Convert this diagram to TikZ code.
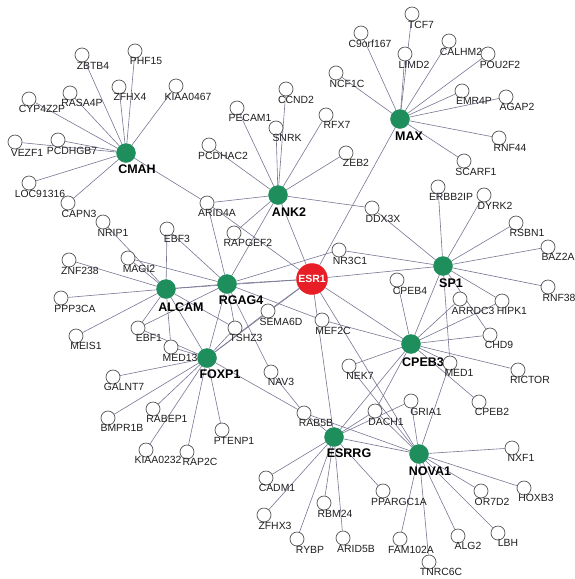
\documentclass[tikz,border=0pt]{standalone}
\usepackage{fontspec}
\setmainfont{Liberation Sans}
\usetikzlibrary{backgrounds}
\definecolor{hubgreen}{RGB}{30,142,92}
\definecolor{esrred}{RGB}{232,30,38}
\definecolor{edgecol}{RGB}{118,118,148}
\definecolor{ringcol}{RGB}{85,85,85}
\definecolor{txtcol}{RGB}{30,30,30}
\tikzset{
  leaf/.style={circle,draw=ringcol,fill=white,line width=0.7pt,minimum size=14pt,inner sep=0pt},
  hubnode/.style={circle,fill=hubgreen,draw=hubgreen,minimum size=19pt,inner sep=0pt},
  esrnode/.style={circle,fill=esrred,draw=esrred,minimum size=31pt,inner sep=0pt,text=white,font=\fontsize{10.5}{12}\selectfont\bfseries},
  lab/.style={inner sep=0pt,text=txtcol,font=\fontsize{10.4}{12}\selectfont},
  hublab/.style={inner sep=0pt,text=black,font=\fontsize{12.5}{14}\selectfont\bfseries},
  edge/.style={draw=edgecol,line width=0.6pt}
}
\newcommand\leafnode[6]{\node[leaf] (#1) at (#2,#3) {}; \node[lab] (#1-t) at (#4,#5) {#6};}
\newcommand\hubn[6]{\node[hubnode] (#1) at (#2,#3) {}; \node[hublab] (#1-t) at (#4,#5) {#6};}
\begin{document}
\begin{tikzpicture}[x=1pt,y=-1pt]
\useasboundingbox (0,0) rectangle (574,579);
% hubs
\hubn{CMAH}{126}{153}{137}{169}{CMAH}
\hubn{ANK2}{278}{195}{289}{212}{ANK2}
\hubn{MAX}{400}{119}{409}{136}{MAX}
\hubn{SP1}{443}{266}{451}{283}{SP1}
\hubn{CPEB3}{411}{344}{423}{362}{CPEB3}
\hubn{ALCAM}{166}{289}{181}{307}{ALCAM}
\hubn{RGAG4}{227}{284}{241}{300}{RGAG4}
\hubn{FOXP1}{207}{358}{220}{374}{FOXP1}
\hubn{ESRRG}{334}{437}{349}{453}{ESRRG}
\hubn{NOVA1}{419}{454}{430}{471}{NOVA1}
\node[esrnode] (ESR1) at (312,279) {ESR1};
% CMAH leaves
\leafnode{ZBTB4}{82}{55}{93}{66}{ZBTB4}
\leafnode{PHF15}{135}{51}{146}{61}{PHF15}
\leafnode{ZFHX4}{119}{87}{130}{97}{ZFHX4}
\leafnode{KIAA0467}{176}{86}{188}{97}{KIAA0467}
\leafnode{RASA4P}{70}{93}{82}{103}{RASA4P}
\leafnode{CYP4Z2P}{29}{99}{42}{109}{CYP4Z2P}
\leafnode{VEZF1}{15}{142}{27}{153}{VEZF1}
\leafnode{PCDHGB7}{58}{140}{72}{151}{PCDHGB7}
\leafnode{LOC91316}{29}{183}{40}{194}{LOC91316}
\leafnode{CAPN3}{68}{203}{79}{214}{CAPN3}
% ANK2 leaves
\leafnode{CCND2}{286}{89}{296}{100}{CCND2}
\leafnode{PECAM1}{237}{108}{250}{118}{PECAM1}
\leafnode{RFX7}{326}{115}{337}{125}{RFX7}
\leafnode{SNRK}{276}{128}{287}{138}{SNRK}
\leafnode{PCDHAC2}{209}{145}{223}{156}{PCDHAC2}
\leafnode{ZEB2}{346}{153}{356}{163}{ZEB2}
\leafnode{ARID4A}{207}{203}{217}{213}{ARID4A}
\leafnode{RAPGEF2}{234}{233}{248}{243}{RAPGEF2}
\leafnode{DDX3X}{372}{208}{383}{219}{DDX3X}
% MAX leaves
\leafnode{C9orf167}{361}{33}{370}{44}{C9orf167}
\leafnode{NCF1C}{336}{73}{347}{84}{NCF1C}
\leafnode{TCF7}{412}{14}{421}{25}{TCF7}
\leafnode{LIMD2}{405}{54}{414}{65}{LIMD2}
\leafnode{CALHM2}{449}{41}{461}{52}{CALHM2}
\leafnode{POU2F2}{488}{54}{500}{65}{POU2F2}
\leafnode{EMR4P}{462}{91}{474}{101}{EMR4P}
\leafnode{AGAP2}{506}{97}{517}{107}{AGAP2}
\leafnode{RNF44}{499}{138}{510}{148}{RNF44}
\leafnode{SCARF1}{464}{161}{476}{172}{SCARF1}
% SP1 leaves
\leafnode{ERBB2IP}{438}{187}{451}{197}{ERBB2IP}
\leafnode{DYRK2}{484}{195}{495}{206}{DYRK2}
\leafnode{RSBN1}{516}{223}{527}{233}{RSBN1}
\leafnode{BAZ2A}{548}{247}{558}{257}{BAZ2A}
\leafnode{RNF38}{548}{287}{559}{298}{RNF38}
\leafnode{NR3C1}{339}{250}{350}{261}{NR3C1}
\leafnode{HIPK1}{502}{301}{512}{311}{HIPK1}
% CPEB3 leaves
\leafnode{CPEB4}{397}{280}{410}{291}{CPEB4}
\leafnode{ARRDC3}{460}{299}{473}{311}{ARRDC3}
\leafnode{CHD9}{490}{335}{499}{345}{CHD9}
\leafnode{MED1}{450}{363}{459}{373}{MED1}
\leafnode{RICTOR}{518}{370}{530}{380}{RICTOR}
\leafnode{CPEB2}{479}{402}{492}{412}{CPEB2}
\leafnode{MEF2C}{322}{320}{333}{331}{MEF2C}
\leafnode{NEK7}{349}{366}{360}{376}{NEK7}
\leafnode{DACH1}{375}{411}{386}{422}{DACH1}
% ALCAM / RGAG4 leaves
\leafnode{NRIP1}{103}{222}{113}{233}{NRIP1}
\leafnode{EBF3}{167}{229}{177}{239}{EBF3}
\leafnode{ZNF238}{69}{260}{80}{271}{ZNF238}
\leafnode{MAGI2}{128}{258}{139}{269}{MAGI2}
\leafnode{PPP3CA}{61}{298}{75}{309}{PPP3CA}
\leafnode{MEIS1}{76}{336}{86}{346}{MEIS1}
\leafnode{EBF1}{138}{328}{149}{338}{EBF1}
\leafnode{MED13}{171}{347}{180}{358}{MED13}
\leafnode{SEMA6D}{268}{311}{281}{322}{SEMA6D}
\leafnode{TSHZ3}{235}{328}{246}{338}{TSHZ3}
\leafnode{NAV3}{271}{372}{281}{382}{NAV3}
% FOXP1 leaves
\leafnode{GALNT7}{113}{377}{124}{387}{GALNT7}
\leafnode{BMPR1B}{108}{418}{122}{428}{BMPR1B}
\leafnode{RABEP1}{153}{409}{167}{419}{RABEP1}
\leafnode{KIAA0232}{146}{450}{158}{460}{KIAA0232}
\leafnode{RAP2C}{187}{452}{200}{462}{RAP2C}
\leafnode{PTENP1}{222}{430}{234}{441}{PTENP1}
\leafnode{RAB5B}{304}{413}{316}{423}{RAB5B}
% ESRRG leaves
\leafnode{CADM1}{266}{478}{277}{488}{CADM1}
\leafnode{ZFHX3}{264}{515}{275}{526}{ZFHX3}
\leafnode{RYBP}{297}{539}{310}{550}{RYBP}
\leafnode{RBM24}{324}{503}{335}{514}{RBM24}
\leafnode{ARID5B}{343}{538}{356}{549}{ARID5B}
\leafnode{PPARGC1A}{383}{491}{399}{502}{PPARGC1A}
% NOVA1 leaves
\leafnode{GRIA1}{411}{401}{426}{412}{GRIA1}
\leafnode{NXF1}{512}{448}{521}{458}{NXF1}
\leafnode{HOXB3}{524}{488}{536}{498}{HOXB3}
\leafnode{OR7D2}{481}{491}{492}{502}{OR7D2}
\leafnode{LBH}{498}{533}{508}{543}{LBH}
\leafnode{ALG2}{458}{536}{468}{546}{ALG2}
\leafnode{FAM102A}{400}{539}{411}{550}{FAM102A}
\leafnode{TNRC6C}{429}{562}{441}{572}{TNRC6C}
% edges
\begin{pgfonlayer}{background}
\foreach \a/\b in {
 CMAH/ZBTB4,CMAH/PHF15,CMAH/ZFHX4,CMAH/KIAA0467,CMAH/RASA4P,CMAH/CYP4Z2P,CMAH/VEZF1,CMAH/PCDHGB7,CMAH/LOC91316,CMAH/CAPN3,CMAH/ARID4A,
 ANK2/CCND2,ANK2/PECAM1,ANK2/RFX7,ANK2/SNRK,ANK2/PCDHAC2,ANK2/ZEB2,ANK2/ARID4A,ANK2/RAPGEF2,ANK2/DDX3X,ANK2/ESR1,ANK2/RGAG4,
 MAX/TCF7,MAX/LIMD2,MAX/CALHM2,MAX/POU2F2,MAX/EMR4P,MAX/AGAP2,MAX/RNF44,MAX/SCARF1,MAX/C9orf167,MAX/NCF1C,MAX/ESR1,
 SP1/ERBB2IP,SP1/DYRK2,SP1/RSBN1,SP1/BAZ2A,SP1/RNF38,SP1/HIPK1,SP1/CHD9,SP1/DDX3X,SP1/NR3C1,SP1/ESR1,SP1/CPEB3,SP1/MED1,
 CPEB3/CPEB4,CPEB3/ARRDC3,CPEB3/HIPK1,CPEB3/CHD9,CPEB3/RICTOR,CPEB3/MED1,CPEB3/CPEB2,CPEB3/ESR1,CPEB3/MEF2C,CPEB3/NEK7,CPEB3/DACH1,CPEB3/ESRRG,
 ALCAM/NRIP1,ALCAM/EBF3,ALCAM/ZNF238,ALCAM/MAGI2,ALCAM/PPP3CA,ALCAM/MEIS1,ALCAM/EBF1,ALCAM/MED13,ALCAM/RGAG4,ALCAM/ESR1,ALCAM/FOXP1,ALCAM/TSHZ3,
 RGAG4/ARID4A,RGAG4/EBF3,RGAG4/MAGI2,RGAG4/EBF1,RGAG4/ESR1,RGAG4/NR3C1,RGAG4/TSHZ3,RGAG4/FOXP1,RGAG4/NAV3,RGAG4/MEF2C,
 FOXP1/MED13,FOXP1/EBF1,FOXP1/GALNT7,FOXP1/BMPR1B,FOXP1/RABEP1,FOXP1/KIAA0232,FOXP1/RAP2C,FOXP1/PTENP1,FOXP1/TSHZ3,FOXP1/SEMA6D,FOXP1/ESR1,FOXP1/RAB5B,
 ESR1/SEMA6D,ESR1/ARID4A,ESR1/ESRRG,ESR1/NOVA1,
 ESRRG/RAB5B,ESRRG/CADM1,ESRRG/ZFHX3,ESRRG/RYBP,ESRRG/RBM24,ESRRG/ARID5B,ESRRG/PPARGC1A,ESRRG/DACH1,ESRRG/NOVA1,ESRRG/GRIA1,
 NOVA1/GRIA1,NOVA1/NXF1,NOVA1/HOXB3,NOVA1/OR7D2,NOVA1/LBH,NOVA1/ALG2,NOVA1/FAM102A,NOVA1/TNRC6C,NOVA1/MED1,NOVA1/DACH1,NOVA1/NEK7,NOVA1/RAB5B,
 NAV3/RAB5B}
 \draw[edge] (\a) -- (\b);
\end{pgfonlayer}
\end{tikzpicture}
\end{document}
